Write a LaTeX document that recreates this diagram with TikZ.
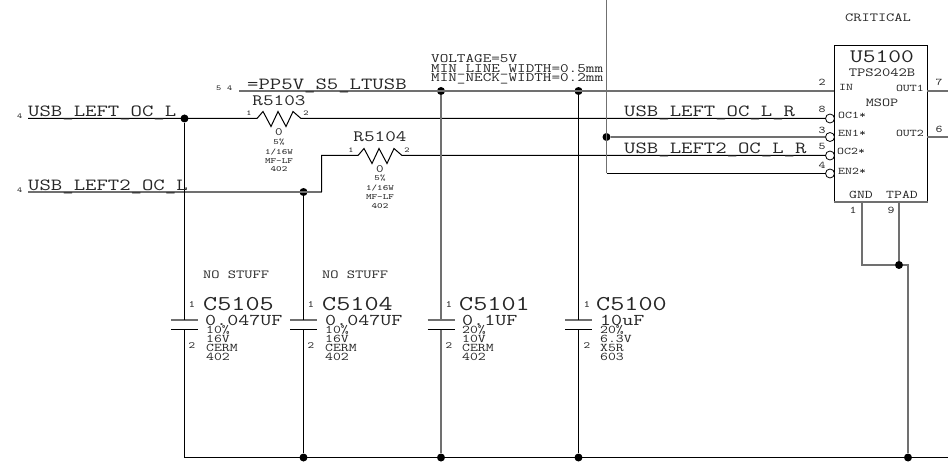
\documentclass[tikz,border=0pt]{standalone}
\usepackage{fontspec}
\newfontfamily\sch[FakeStretch=1.3]{Latin Modern Mono}
\newcommand\schsize[1]{\sch\fontsize{\fpeval{#1*1.07}}{\fpeval{#1*1.07}}\selectfont}
\definecolor{gw}{HTML}{707070}
\tikzset{
  wire/.style={black,line width=1pt},
  gwire/.style={gw,line width=1.7pt},
  dot/.style={circle,fill=black,inner sep=0pt,minimum size=8pt},
  bub/.style={circle,draw=black,fill=white,line width=0.8pt,inner sep=0pt,minimum size=9pt},
  tx/.style={font=\schsize{#1},text=black!85,inner sep=0pt,anchor=base west},
  tc/.style={font=\schsize{#1},text=black!85,inner sep=0pt,anchor=base},
  tr/.style={font=\schsize{#1},text=black!85,inner sep=0pt,anchor=base east},
}
\begin{document}
\begin{tikzpicture}[x=1pt,y=-1pt]
\useasboundingbox (0,0) rectangle (948,465);
% coordinates
\coordinate (pwrL) at (239,91);
\coordinate (lL) at (28,118.5);
\coordinate (l2L) at (28,192);
\coordinate (ra1) at (257,118.5);
\coordinate (ra2) at (301,118.5);
\coordinate (rb1) at (358,155.5);
\coordinate (rb2) at (402,155.5);
\coordinate (bend1) at (321.5,192);
\coordinate (bend2) at (321.5,155.5);
\coordinate (enTop) at (606.5,0);
\coordinate (enBot) at (606.5,173.5);
\coordinate (btL) at (184.5,457.5);
\coordinate (btR) at (948,457.5);
\coordinate (o1) at (948,91);
\coordinate (o2) at (948,137);
\coordinate (gndB) at (862,265);
\coordinate (padT) at (899,201);
\coordinate (gndT) at (862,201);
\coordinate (gndR) at (908,265);
\coordinate (inP) at (834,91);
\coordinate (out1) at (927,91);
\coordinate (out2) at (927,137);
% junctions
\node[dot] (j1) at (184.5,118.5) {};
\node[dot] (j2) at (303.5,192) {};
\node[dot] (j3) at (441,91) {};
\node[dot] (j4) at (578.5,91) {};
\node[dot] (j5) at (606.5,137) {};
\node[dot] (j6) at (899,265) {};
\node[dot] (j7) at (303.5,457.5) {};
\node[dot] (j8) at (441,457.5) {};
\node[dot] (j9) at (578.5,457.5) {};
\node[dot] (j10) at (908,457.5) {};
% IC
\node[draw=black,line width=1pt,inner sep=0pt,minimum width=93pt,minimum height=156pt] (ic) at (880.5,123.5) {};
\draw[gwire] (ic.south west) -- (ic.south east);
\node[bub] (b8) at (830,118.5) {};
\node[bub] (b3) at (830,137) {};
\node[bub] (b5) at (830,155.5) {};
\node[bub] (b4) at (830,173.5) {};
% wires
\draw[gwire] (pwrL) -- (inP);
\draw[wire] (lL) -- (ra1) -- ++(6,-7) -- ++(8,15) -- ++(7,-15) -- ++(8,15) -- ++(7,-15) -- ++(8,7) -- (ra2) -- (b8.west);
\draw[gwire] (l2L) -- (bend1);
\draw[wire] (bend1) -- (bend2) -- (rb1) -- ++(6,-7) -- ++(8,15) -- ++(7,-15) -- ++(8,15) -- ++(7,-15) -- ++(8,7) -- (rb2) -- (b5.west);
\draw[gwire] (enTop) -- (enBot);
\draw[wire] (enBot) -- (b4.west);
\draw[gwire] (j5) -- (b3.west);
\draw[gwire] (out1) -- (o1);
\draw[gwire] (out2) -- (o2);
\draw[gwire] (gndT) -- (gndB) -- (j6);
\draw[gwire] (padT) -- (j6);
\draw[gwire] (j6) -| (gndR) -- (j10);
\draw[wire] (btL) -- (btR);
% capacitors
\foreach \n/\x in {c5/184.5,c4/303.5,c1/441,c0/578.5}{
  \coordinate (\n T) at (\x,320);
  \coordinate (\n B) at (\x,329.5);
  \coordinate (\n TL) at (\x-13.5,320);
  \coordinate (\n TR) at (\x+13.5,320);
  \coordinate (\n BL) at (\x-13.5,329.5);
  \coordinate (\n BR) at (\x+13.5,329.5);
  \draw[gwire] (\n TL) -- (\n TR);
  \draw[wire] (\n BL) -- (\n BR);
}
\draw[wire] (j1) -- (c5T) (c5B) -- (btL);
\draw[wire] (j2) -- (c4T) (c4B) -- (j7);
\draw[gwire] (j3) -- (c1T) (c1B) -- (j8);
\draw[wire] (j4) -- (c0T) (c0B) -- (j9);
% net labels
\node[tx=15.9] (n1) at (28,116.5) {USB\_LEFT\_OC\_L};
\node[tx=15.9] (n2) at (28,190.5) {USB\_LEFT2\_OC\_L};
\node[tx=15.9] (n3) at (247,89.5) {=PP5V\_S5\_LTUSB};
\node[tx=15.9] (n4) at (624,116.5) {USB\_LEFT\_OC\_L\_R};
\node[tx=15.9] (n5) at (624,153.5) {USB\_LEFT2\_OC\_L\_R};
\node[tx=7] (n6) at (17,119) {4};
\node[tx=7] (n7) at (17,193) {4};
\node[tx=7] (n8) at (216,91) {5};
\node[tx=7] (n9) at (227,91) {4};
\node[tx=12] (v1) at (431,63) {VOLTAGE=5V};
\node[tx=12] (v2) at (431,73) {MIN\_LINE\_WIDTH=0.5mm};
\node[tx=12] (v3) at (431,82) {MIN\_NECK\_WIDTH=0.2mm};
% R5103
\node[tc=14.8] (ra) at (279,106) {R5103};
\node[tc=10.5] (ra0) at (279,136) {0};
\node[tc=7.5] (ra5) at (279,144.5) {5\%};
\node[tc=7.5] (raw) at (279,154.5) {1/16W};
\node[tc=7.5] (ram) at (279,163.5) {MF-LF};
\node[tc=7.5] (ras) at (279,172) {402};
\node[tc=7] (rap) at (249,116) {1};
\node[tc=7] (raq) at (306,116) {2};
% R5104
\node[tc=14.8] (rb) at (380,142) {R5104};
\node[tc=10.5] (rb0) at (380,173) {0};
\node[tc=7.5] (rb5) at (380,180.5) {5\%};
\node[tc=7.5] (rbw) at (380,190.5) {1/16W};
\node[tc=7.5] (rbm) at (380,199.5) {MF-LF};
\node[tc=7.5] (rbs) at (380,208.5) {402};
\node[tc=7] (rbp) at (351,153) {1};
\node[tc=7] (rbq) at (407,153) {2};
% capacitor labels
\node[tx=11.5] (ns1) at (203,279) {NO STUFF};
\node[tx=11.5] (ns2) at (322,279) {NO STUFF};
\node[tc=9] (c5p1) at (192,307) {1};
\node[tc=9] (c5p2) at (192,348) {2};
\node[tx=19.7] (c5n) at (203,310) {C5105};
\node[tx=15.4] (c5v) at (205,325) {0.047UF};
\node[tx=11] (c5a) at (206,333) {10\%};
\node[tx=11] (c5b) at (206,342) {16V};
\node[tx=11] (c5c) at (206,351) {CERM};
\node[tx=11] (c5d) at (206,360) {402};
\node[tc=9] (c4p1) at (311,307) {1};
\node[tc=9] (c4p2) at (311,348) {2};
\node[tx=19.7] (c4n) at (322,310) {C5104};
\node[tx=15.4] (c4v) at (325,325) {0.047UF};
\node[tx=11] (c4a) at (325,333) {10\%};
\node[tx=11] (c4b) at (325,342) {16V};
\node[tx=11] (c4c) at (325,351) {CERM};
\node[tx=11] (c4d) at (325,360) {402};
\node[tc=9] (c1p1) at (449,307) {1};
\node[tc=9] (c1p2) at (449,348) {2};
\node[tx=19.7] (c1n) at (459,310) {C5101};
\node[tx=15.4] (c1v) at (462,325) {0.1UF};
\node[tx=11] (c1a) at (462,333) {20\%};
\node[tx=11] (c1b) at (462,342) {10V};
\node[tx=11] (c1c) at (462,351) {CERM};
\node[tx=11] (c1d) at (462,360) {402};
\node[tc=9] (c0p1) at (587,307) {1};
\node[tc=9] (c0p2) at (587,348) {2};
\node[tx=19.7] (c0n) at (596,310) {C5100};
\node[tx=15.4] (c0v) at (600,325) {10uF};
\node[tx=11] (c0a) at (600,333) {20\%};
\node[tx=11] (c0b) at (600,342) {6.3V};
\node[tx=11] (c0c) at (600,351) {X5R};
\node[tx=11] (c0d) at (600,360) {603};
% IC labels
\node[tc=11.5] (crit) at (878,22) {CRITICAL};
\node[tc=17.8] (icn) at (882,63) {U5100};
\node[tc=11.6] (icp) at (882,77) {TPS2042B};
\node[tc=11.3] (icm) at (882,107) {MSOP};
\node[tx=9.5] (pin) at (839,91) {IN};
\node[tr=9.5] (pou1) at (924,92) {OUT1};
\node[tx=9.5] (poc1) at (838,119) {OC1*};
\node[tx=9.5] (pen1) at (838,137) {EN1*};
\node[tr=9.5] (pou2) at (924,137) {OUT2};
\node[tx=9.5] (poc2) at (837,155) {OC2*};
\node[tx=9.5] (pen2) at (838,175) {EN2*};
\node[tc=11] (pgnd) at (861,199) {GND};
\node[tc=11] (ppad) at (902,199) {TPAD};
\node[tc=9.5] (q2) at (822,86) {2};
\node[tc=9.5] (q7) at (939,86) {7};
\node[tc=9.5] (q8) at (822,113) {8};
\node[tc=9.5] (q3) at (822,134) {3};
\node[tc=9.5] (q5) at (822,150) {5};
\node[tc=9.5] (q4) at (822,169) {4};
\node[tc=9.5] (q6) at (939,133) {6};
\node[tc=9.5] (q1) at (853,214) {1};
\node[tc=9.5] (q9) at (891,214) {9};
\end{tikzpicture}
\end{document}
